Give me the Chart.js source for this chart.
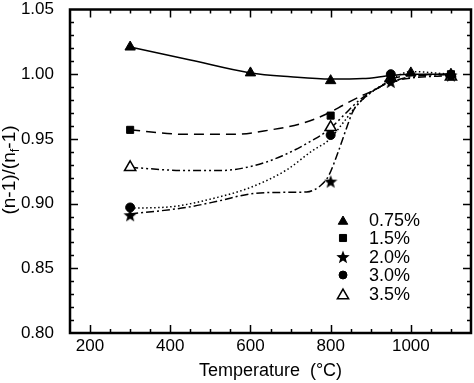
<!DOCTYPE html>
<html>
<head>
<meta charset="utf-8">
<script src="https://cdn.jsdelivr.net/npm/chart.js@4/dist/chart.umd.min.js"></script>
<style>
  html, body { margin: 0; padding: 0; background: #fff; }
  #wrap { width: 474px; height: 383px; overflow: hidden; }
  #chart { display: block; margin-top: -7px; }
</style>
</head>
<body>
<div id="wrap"><canvas id="chart" width="479" height="390"></canvas></div>
<script>
// 坐标轴刻度
const xTicks = [200, 400, 600, 800, 1000];
const yTicks = [0.80, 0.85, 0.90, 0.95, 1.00, 1.05];

// 图例标签
const labels = ['0.75%', '1.5%', '2.0%', '3.0%', '3.5%'];

// 实测点（温度 / 归一化值）
const temp075 = [300, 600, 800, 1000, 1100];
const val075 = [1.021, 1.001, 0.995, 1.001, 1.000];
const temp15 = [300, 800, 950, 1100];
const val15 = [0.957, 0.968, 0.997, 1.000];
const temp20 = [300, 800, 950, 1100];
const val20 = [0.891, 0.917, 0.994, 0.999];
const temp30 = [300, 800, 950, 1100];
const val30 = [0.897, 0.953, 1.000, 0.999];
const temp35 = [300, 800, 950, 1100];
const val35 = [0.928, 0.959, 0.997, 0.998];

// 拟合曲线
const fitT075 = [300, 450, 600, 700, 800, 880, 950, 1000, 1100];
const fitV075 = [1.021, 1.011, 1.001, 0.998, 0.9962, 0.9966, 0.999, 1.000, 1.000];
const fitT15 = [300, 440, 560, 645, 735, 795, 835, 875, 920, 950, 1000, 1100];
const fitV15 = [0.957, 0.9535, 0.9535, 0.9567, 0.9626, 0.970, 0.9767, 0.983, 0.9895, 0.996, 0.999, 1.000];
const fitT20 = [300, 440, 520, 600, 690, 740, 775, 795, 820, 840, 856, 885, 918, 950, 1000, 1100];
const fitV20 = [0.892, 0.897, 0.902, 0.9075, 0.9087, 0.909, 0.914, 0.9215, 0.941, 0.9587, 0.9715, 0.982, 0.9895, 0.994, 0.997, 0.999];
const fitT30 = [300, 400, 520, 600, 690, 755, 795, 835, 860, 893, 926, 950, 1000, 1100];
const fitV30 = [0.8965, 0.8975, 0.905, 0.9125, 0.926, 0.941, 0.949, 0.964, 0.974, 0.984, 0.991, 0.996, 1.002, 1.000];
const fitT35 = [300, 440, 520, 605, 680, 755, 795, 835, 868, 909, 950, 1000, 1100];
const fitV35 = [0.928, 0.9255, 0.9255, 0.929, 0.937, 0.949, 0.957, 0.969, 0.979, 0.988, 0.994, 0.998, 1.000];

const FONT = '"Liberation Sans", Arial, sans-serif';
// 画布向上偏移量（与CSS margin-top一致）
const OFFSET = 7;

/**
 * 生成实心五角星点样式
 */
function makeStar(size) {
  const c = document.createElement('canvas');
  c.width = size;
  c.height = size;
  const g = c.getContext('2d');
  const cx = size / 2, cy = size / 2 + 0.5;
  const ro = size / 2, ri = ro * 0.42;
  g.beginPath();
  for (let i = 0; i < 10; i++) {
    const r = i % 2 === 0 ? ro : ri;
    const a = -Math.PI / 2 + i * Math.PI / 5;
    const px = cx + r * Math.cos(a), py = cy + r * Math.sin(a);
    if (i === 0) g.moveTo(px, py); else g.lineTo(px, py);
  }
  g.closePath();
  g.fillStyle = '#000';
  g.fill();
  return c;
}
const starImg = makeStar(14);

function toPoints(xs, ys) {
  return xs.map((x, i) => ({ x: x, y: ys[i] }));
}

// 各系列标记样式
const markerStyles = [
  { pointStyle: 'triangle', radius: 6, backgroundColor: '#000', borderColor: '#000', borderWidth: 1 },
  { pointStyle: 'rect', radius: 5, backgroundColor: '#000', borderColor: '#000', borderWidth: 1 },
  { pointStyle: starImg, radius: 7, backgroundColor: '#000', borderColor: '#000', borderWidth: 0 },
  { pointStyle: 'circle', radius: 4.5, backgroundColor: '#000', borderColor: '#000', borderWidth: 1 },
  { pointStyle: 'triangle', radius: 6.5, backgroundColor: '#fff', borderColor: '#000', borderWidth: 1.5 }
];
const dashes = [[], [10, 6], [8, 3, 2, 3], [1.5, 2.5], [8, 3, 2, 3, 2, 3]];

const markerSets = [[temp075, val075], [temp15, val15], [temp20, val20], [temp30, val30], [temp35, val35]];
const fitSets = [[fitT075, fitV075], [fitT15, fitV15], [fitT20, fitV20], [fitT30, fitV30], [fitT35, fitV35]];

const datasets = [];
fitSets.forEach((s, i) => {
  datasets.push({
    label: labels[i] + ' fit',
    data: toPoints(s[0], s[1]),
    showLine: true,
    borderColor: '#000',
    borderWidth: 1.5,
    borderDash: dashes[i],
    pointRadius: 0,
    cubicInterpolationMode: 'monotone',
    fill: false,
    order: 2
  });
});
markerSets.forEach((s, i) => {
  const m = markerStyles[i];
  datasets.push({
    label: labels[i],
    data: toPoints(s[0], s[1]),
    showLine: false,
    pointStyle: m.pointStyle,
    pointRadius: m.radius,
    pointHoverRadius: m.radius,
    pointBackgroundColor: m.backgroundColor,
    pointBorderColor: m.borderColor,
    pointBorderWidth: m.borderWidth,
    order: 1
  });
});

/**
 * 边框、内向刻度、轴标题和图例
 */
const framePlugin = {
  id: 'frame',
  afterDraw(chart) {
    const ctx = chart.ctx;
    const a = chart.chartArea;
    const xs = chart.scales.x, ys = chart.scales.y;
    ctx.save();
    ctx.strokeStyle = '#000';

    // 刻度
    ctx.lineWidth = 1.5;
    ctx.beginPath();
    for (let v = 200; v < 1150; v += 50) {
      const px = Math.round(xs.getPixelForValue(v)) + 0.5;
      const len = v % 200 === 0 ? 8 : 4;
      ctx.moveTo(px, a.bottom); ctx.lineTo(px, a.bottom - len);
      ctx.moveTo(px, a.top); ctx.lineTo(px, a.top + len);
    }
    for (let k = 81; k < 105; k++) {
      const v = k / 100;
      const py = Math.round(ys.getPixelForValue(v)) + 0.5;
      const len = k % 5 === 0 ? 8 : 4;
      ctx.moveTo(a.left, py); ctx.lineTo(a.left + len, py);
      ctx.moveTo(a.right, py); ctx.lineTo(a.right - len, py);
    }
    ctx.stroke();

    // 边框
    ctx.lineWidth = 2.5;
    ctx.strokeRect(a.left, a.top, a.right - a.left, a.bottom - a.top);

    // x轴标题
    ctx.fillStyle = '#000';
    ctx.font = '18px ' + FONT;
    ctx.textAlign = 'center';
    ctx.textBaseline = 'middle';
    ctx.fillText('Temperature  (\u00B0C)', (a.left + a.right) / 2, a.bottom + 38);

    // y轴标题 (n-1)/(n_f-1)
    ctx.translate(10, 170 + OFFSET);
    ctx.rotate(-Math.PI / 2);
    const big = '19px ' + FONT, small = '13px ' + FONT;
    const parts = [['(n-1)/(n', big, 0], ['f', small, 5], ['-1)', big, 0]];
    let total = 0;
    parts.forEach(p => { ctx.font = p[1]; total += ctx.measureText(p[0]).width; });
    let cx = -total / 2;
    ctx.textAlign = 'left';
    parts.forEach(p => {
      ctx.font = p[1];
      ctx.fillText(p[0], cx, p[2]);
      cx += ctx.measureText(p[0]).width;
    });
    ctx.restore();

    // 图例
    ctx.save();
    const rowsY = [220, 238, 257, 275, 294];
    const legendStyles = [
      { pointStyle: 'triangle', radius: 5.5, borderWidth: 1, fill: '#000' },
      { pointStyle: 'rect', radius: 5, borderWidth: 1, fill: '#000' },
      { pointStyle: starImg, radius: 7, borderWidth: 0, fill: '#000' },
      { pointStyle: 'circle', radius: 4, borderWidth: 1, fill: '#000' },
      { pointStyle: 'triangle', radius: 6.5, borderWidth: 1.5, fill: '#fff' }
    ];
    labels.forEach((lab, i) => {
      const st = legendStyles[i];
      const y = rowsY[i] + OFFSET;
      ctx.fillStyle = st.fill;
      ctx.strokeStyle = '#000';
      ctx.lineWidth = st.borderWidth;
      if (Chart.helpers && Chart.helpers.drawPoint) {
        Chart.helpers.drawPoint(ctx, { pointStyle: st.pointStyle, radius: st.radius, rotation: 0, borderWidth: st.borderWidth }, 343, y + (st.pointStyle === 'triangle' ? 1.5 : 0));
      }
      ctx.fillStyle = '#000';
      ctx.font = '18px ' + FONT;
      ctx.textAlign = 'left';
      ctx.textBaseline = 'middle';
      ctx.fillText(lab, 369, y + 1);
    });
    ctx.restore();
  }
};

new Chart(document.getElementById('chart'), {
  type: 'scatter',
  data: { datasets: datasets },
  options: {
    responsive: false,
    animation: false,
    events: [],
    layout: { padding: { top: 1, right: 1, left: 0, bottom: 0 } },
    plugins: {
      legend: { display: false },
      tooltip: { enabled: false }
    },
    scales: {
      x: {
        type: 'linear',
        min: 150,
        max: 1150,
        grid: { display: false },
        border: { display: false },
        afterBuildTicks: s => { s.ticks = xTicks.map(v => ({ value: v })); },
        afterFit: s => { s.height = 50; },
        ticks: {
          color: '#000',
          padding: -3,
          maxRotation: 0,
          font: { family: FONT, size: 17, lineHeight: 1 },
          callback: v => String(v)
        }
      },
      y: {
        type: 'linear',
        min: 0.80,
        max: 1.05,
        grid: { display: false },
        border: { display: false },
        afterBuildTicks: s => { s.ticks = yTicks.map(v => ({ value: v })); },
        afterFit: s => { s.width = 70; },
        ticks: {
          color: '#000',
          padding: 8,
          font: { family: FONT, size: 17, lineHeight: 1 },
          callback: v => v.toFixed(2)
        }
      }
    }
  },
  plugins: [framePlugin]
});
</script>
</body>
</html>
